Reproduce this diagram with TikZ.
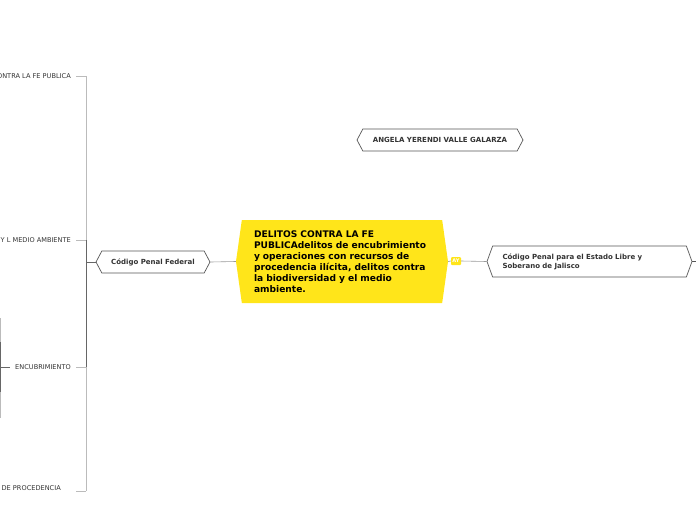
\documentclass[tikz,border=0pt]{standalone}
\usepackage{fontspec}
\setmainfont{DejaVu Sans}
\usetikzlibrary{shapes.symbols}
\definecolor{ymain}{HTML}{FFE51A}
\definecolor{bordergray}{HTML}{555555}
\definecolor{txtgray}{HTML}{333333}
\definecolor{lightline}{HTML}{BBBBBB}
\definecolor{darkline}{HTML}{666666}
\definecolor{linkgray}{HTML}{999999}
\tikzset{
  hexbox/.style={shape=signal, signal to=west and east, draw=bordergray, line width=0.7pt,
    fill=white, inner sep=0pt, font=\fontsize{7}{9}\selectfont\bfseries, text=txtgray},
  mainbox/.style={shape=signal, signal to=west and east, fill=ymain, draw=none,
    inner sep=0pt, signal pointer angle=164, minimum width=212pt, minimum height=83pt,
    text width=176pt, align=left, font=\fontsize{9.1}{11}\selectfont\bfseries, text=black},
  leaflabel/.style={font=\fontsize{6.6}{8}\selectfont, text=txtgray, inner xsep=5pt, inner ysep=1pt},
  link/.style={draw=linkgray, line width=0.6pt},
  brlight/.style={draw=lightline, line width=0.8pt},
  brdark/.style={draw=darkline, line width=0.8pt},
  badge/.style={fill=ymain, rounded corners=1pt, inner sep=1pt, minimum width=10pt, minimum height=8pt,
    font=\fontsize{5}{5}\selectfont\bfseries, text=white}
}
\begin{document}
\begin{tikzpicture}[x=1pt,y=-1pt]
\useasboundingbox (0,0) rectangle (696,520);
% main node
\node[mainbox] (main) at (342,261.5) {DELITOS CONTRA LA FE\\PUBLICAdelitos de encubrimiento\\y operaciones con recursos de\\procedencia ilícita, delitos contra\\la biodiversidad y el medio\\ambiente.};
% other nodes
\node[hexbox, signal pointer angle=124, minimum width=114pt, minimum height=22pt] (cpf) at (153,262) {Código Penal Federal};
\node[hexbox, signal pointer angle=124, minimum width=166pt, minimum height=22pt] (ang) at (440,140) {ANGELA YERENDI VALLE GALARZA};
\node[hexbox, signal pointer angle=140, minimum width=205pt, minimum height=31pt, text width=174pt, align=left] (jal) at (589.5,261.5) {Código Penal para el Estado Libre y\\Soberano de Jalisco};
\node[badge] (ay) at (456,261) {AY};
% links
\draw[link] (main.west) -- (cpf.east);
\draw[link] (main.east) -- (ay.west);
\draw[link] (ay.east) -- (jal.west);
\coordinate (rt) at (696,261.5);
\draw[bordergray, line width=0.6pt] (jal.east) -- (rt);
% left bracket
\coordinate (bj) at (86,262);
\coordinate (b1) at (86,76);
\coordinate (b2) at (86,240);
\coordinate (b3) at (86,367);
\coordinate (b4) at (86,491);
\draw[brdark] (cpf.west) -- (bj);
\draw[brlight] (b1) -- (b4);
\draw[brdark] (b2) -- (b3);
\node[leaflabel, anchor=east] (l1) at (76,76) {ONTRA LA FE PUBLICA};
\node[leaflabel, anchor=east] (l2) at (76,240) {Y L MEDIO AMBIENTE};
\node[leaflabel, anchor=east] (l3) at (76,367) {ENCUBRIMIENTO};
\node[leaflabel, anchor=east] (l4) at (66,488) {DE PROCEDENCIA};
\coordinate (t4) at (76,491);
\draw[brlight] (l1.east) -- (b1);
\draw[brlight] (l2.east) -- (b2);
\draw[brlight] (l3.east) -- (b3);
\draw[brlight] (t4) -- (b4);
% sub bracket of ENCUBRIMIENTO
\coordinate (s0) at (0,367);
\coordinate (sa) at (0.5,318);
\coordinate (sb) at (0.5,418);
\coordinate (sc) at (0.5,342);
\coordinate (sd) at (0.5,392);
\draw[brlight] (sa) -- (sb);
\draw[brdark] (sc) -- (sd);
\draw[brdark] (l3.west) -- (s0);
\end{tikzpicture}
\end{document}
